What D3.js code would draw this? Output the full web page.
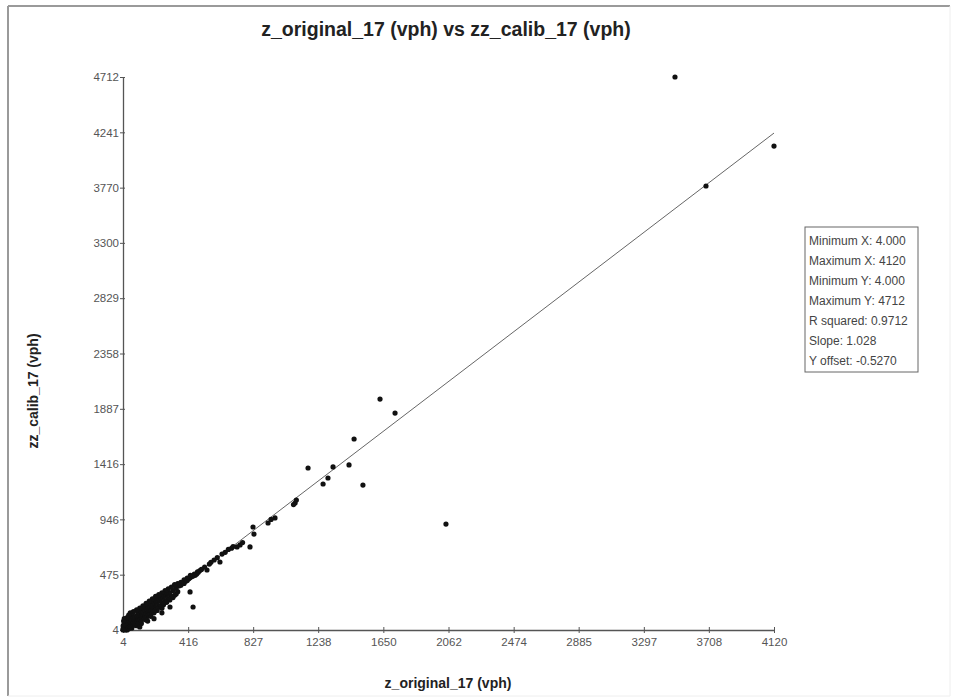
<!DOCTYPE html>
<html>
<head>
<meta charset="utf-8">
<script src="https://cdn.jsdelivr.net/npm/d3@7"></script>
<style>
  body { margin: 0; background: #fff; }
  svg text { font-family: "Liberation Sans", Arial, sans-serif; }
</style>
</head>
<body>
<svg width="954" height="699"></svg>
<script>
const xTicks = [4, 416, 827, 1238, 1650, 2062, 2474, 2885, 3297, 3708, 4120];
const yTicks = [4, 475, 946, 1416, 1887, 2358, 2829, 3300, 3770, 4241, 4712];

// [z_original_17, zz_calib_17]
const points = [
  [3494, 4712], [4120, 4124], [3690, 3784], [2046, 906],
  [1629, 1970], [1724, 1851], [1465, 1630], [1174, 1383], [1332, 1392],
  [1433, 1409], [1300, 1298], [1269, 1247], [1521, 1238],
  [1092, 1085], [1082, 1072], [1100, 1110], [965, 958], [921, 915], [940, 945],
  [826, 881], [832, 821], [807, 711], [744, 728], [725, 711], [760, 748],
  [700, 715], [690, 700], [670, 690], [650, 665], [630, 650], [617, 583],
  [600, 620], [580, 600], [560, 580], [550, 565], [535, 515], [520, 540],
  [500, 520], [490, 510], [480, 495], [475, 500], [470, 480], [460, 470],
  [455, 480], [450, 465], [447, 200], [440, 460], [430, 450], [430, 470],
  [428, 328], [420, 440], [410, 425], [410, 445], [400, 420], [390, 400],
  [390, 430], [380, 400], [370, 385], [370, 410], [360, 380], [350, 330],
  [350, 400], [340, 360], [340, 310], [330, 300], [330, 390], [320, 340],
  [320, 280], [310, 290], [310, 370], [301, 200], [300, 320], [300, 260],
  [290, 270], [290, 355], [280, 300], [280, 240], [275, 320], [270, 250],
  [270, 340], [265, 310], [260, 280], [260, 220], [255, 300], [250, 230],
  [250, 190], [250, 150], [250, 320], [245, 290], [240, 255], [240, 200],
  [235, 275], [230, 210], [230, 305], [225, 265], [220, 240], [220, 170],
  [220, 190], [215, 255], [210, 195], [210, 290], [205, 245], [200, 220],
  [200, 150], [200, 100], [200, 160], [195, 175], [195, 235], [190, 210],
  [190, 260], [190, 270], [185, 170], [185, 225], [180, 200], [180, 120],
  [180, 140], [175, 160], [175, 215], [170, 190], [170, 250], [170, 130],
  [165, 150], [165, 205], [160, 175], [160, 220], [160, 80], [160, 120],
  [155, 140], [155, 195], [150, 170], [150, 90], [150, 230], [150, 110],
  [145, 125], [145, 185], [140, 160], [140, 100], [135, 120], [135, 175],
  [130, 145], [130, 190], [130, 210], [130, 100], [125, 110], [125, 165],
  [120, 140], [120, 60], [120, 85], [115, 100], [115, 150], [110, 120],
  [110, 30], [110, 190], [110, 80], [105, 90], [105, 135], [100, 115],
  [100, 160], [100, 70], [95, 85], [95, 130], [90, 100], [90, 40],
  [90, 175], [90, 60], [85, 70], [85, 115], [80, 95], [80, 50],
  [75, 62], [75, 105], [70, 80], [70, 120], [70, 160], [70, 45],
  [65, 55], [65, 95], [60, 70], [60, 110], [60, 20], [60, 35],
  [55, 42], [55, 80], [50, 60], [50, 100], [50, 150], [50, 30],
  [45, 38], [45, 70], [40, 45], [40, 90], [40, 15], [40, 130],
  [35, 28], [35, 55], [35, 40], [30, 35], [30, 5], [30, 110],
  [25, 18], [25, 45], [25, 30], [20, 25], [20, 60], [20, 5],
  [20, 80], [15, 8], [15, 30], [15, 15], [12, 100], [10, 12],
  [10, 50], [10, 25], [8, 80], [6, 20], [5, 40], [5, 10], [4, 4]
];

const statLabels = ["Minimum X: 4.000", "Maximum X: 4120", "Minimum Y: 4.000",
  "Maximum Y: 4712", "R squared: 0.9712", "Slope: 1.028", "Y offset: -0.5270"];
const slope = 1.028, yOffset = -0.527;

const svg = d3.select("svg");

// outer frame
svg.append("line").attr("x1", 8).attr("y1", 6).attr("x2", 950).attr("y2", 6)
  .attr("stroke", "#9a9a9a").attr("stroke-width", 2);
svg.append("line").attr("x1", 8).attr("y1", 6).attr("x2", 8).attr("y2", 696)
  .attr("stroke", "#9a9a9a").attr("stroke-width", 2);
svg.append("line").attr("x1", 950).attr("y1", 6).attr("x2", 950).attr("y2", 696)
  .attr("stroke", "#eee");
svg.append("line").attr("x1", 8).attr("y1", 696).attr("x2", 950).attr("y2", 696)
  .attr("stroke", "#eee");

const x = d3.scaleLinear().domain([4, 4120]).range([123, 774]);
const y = d3.scaleLinear().domain([4, 4712]).range([630, 77]);

// title + axis labels
svg.append("text").attr("x", 446).attr("y", 36).attr("text-anchor", "middle")
  .attr("font-size", 19.5).attr("font-weight", "bold").attr("fill", "#222")
  .text("z_original_17 (vph) vs zz_calib_17 (vph)");
svg.append("text").attr("x", 448).attr("y", 688).attr("text-anchor", "middle")
  .attr("font-size", 14).attr("font-weight", "bold").attr("fill", "#222")
  .text("z_original_17 (vph)");
svg.append("text").attr("transform", "translate(38,391) rotate(-90)")
  .attr("text-anchor", "middle")
  .attr("font-size", 14).attr("font-weight", "bold").attr("fill", "#222")
  .text("zz_calib_17 (vph)");

const xAxis = svg.append("g").attr("transform", "translate(0,630)")
  .call(d3.axisBottom(x).tickValues(xTicks).tickSize(3).tickSizeOuter(0)
    .tickFormat(d3.format("d")));
xAxis.selectAll(".tick line").attr("y1", -3);
xAxis.selectAll(".tick text").attr("y", 8);

const yAxis = svg.append("g").attr("transform", "translate(123,0)")
  .call(d3.axisLeft(y).tickValues(yTicks).tickSize(3).tickSizeOuter(0)
    .tickFormat(d3.format("d")));
yAxis.selectAll(".tick line").attr("x1", 2);
yAxis.selectAll(".tick text").attr("x", -4);

svg.selectAll(".domain").attr("stroke", "#555").attr("stroke-width", 1.3);
svg.selectAll(".tick line").attr("stroke", "#555");
svg.selectAll(".tick text").attr("font-size", 11.5).attr("fill", "#555")
  .attr("font-family", "\"Liberation Sans\", Arial, sans-serif");

// regression line
svg.append("line")
  .attr("x1", x(4)).attr("y1", y(slope * 4 + yOffset))
  .attr("x2", x(4120)).attr("y2", y(slope * 4120 + yOffset))
  .attr("stroke", "#666").attr("stroke-width", 1);

// points
svg.append("g").selectAll("circle")
  .data(points)
  .enter().append("circle")
    .attr("cx", d => x(d[0]))
    .attr("cy", d => y(d[1]))
    .attr("r", 2.6)
    .attr("fill", "#111");

// statistics box
const box = svg.append("g").attr("transform", "translate(805,227)");
box.append("rect").attr("width", 113).attr("height", 145)
  .attr("fill", "#fff").attr("stroke", "#666").attr("stroke-width", 1);
box.selectAll("text")
  .data(statLabels)
  .enter().append("text")
    .attr("x", 4)
    .attr("y", (d, i) => 18 + i * 20)
    .attr("font-size", 12)
    .attr("fill", "#444")
    .text(d => d);
</script>
</body>
</html>
